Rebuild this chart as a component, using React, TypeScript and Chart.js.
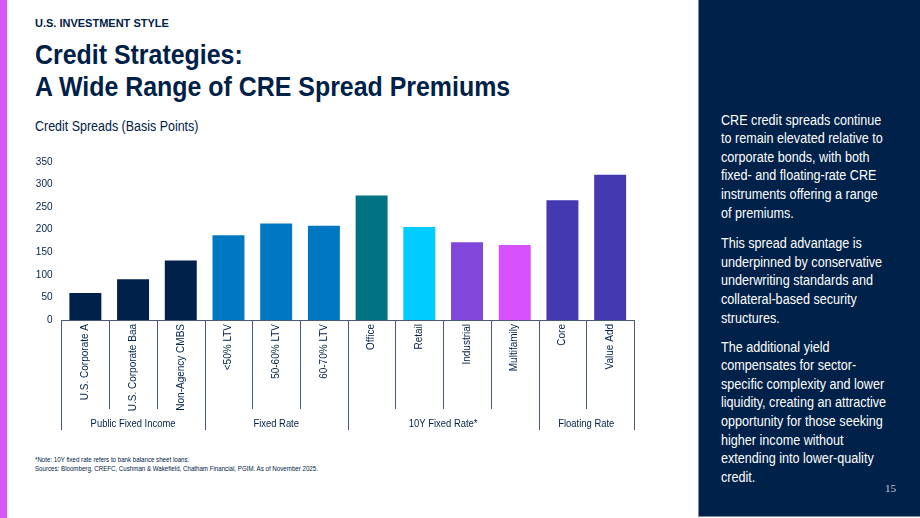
import React, { useEffect, useRef } from "react";
import { Chart, registerables } from "chart.js";

Chart.register(...registerables);

// ---- data ----
const categories = [
  "U.S. Corporate A",
  "U.S. Corporate Baa",
  "Non-Agency CMBS",
  "<50% LTV",
  "50-60% LTV",
  "60-70% LTV",
  "Office",
  "Retail",
  "Industrial",
  "Multifamily",
  "Core",
  "Value Add",
];
const spreads = [60, 90, 132, 188, 214, 209, 276, 206, 172, 166, 265, 322];
const barColors = [
  "#00214a", "#00214a", "#00214a",
  "#0078c1", "#0078c1", "#0078c1",
  "#007383", "#00ccff", "#8047da", "#d551fc",
  "#4539b1", "#4539b1",
];
const groupNames = ["Public Fixed Income", "Fixed Rate", "10Y Fixed Rate*", "Floating Rate"];
const groupSizes = [3, 3, 4, 2];
const yTicks = [0, 50, 100, 150, 200, 250, 300, 350];

const NAVY = "#002147";
const LINE = "#4a5a72";
const FONT = "'Liberation Sans', Arial, Helvetica, sans-serif";

const groupPlugin = {
  id: "groupDividers",
  afterDraw(chart: any) {
    const x = chart.scales.x;
    const ctx = chart.ctx;
    const top = x.top;
    const step = x.getPixelForValue(1) - x.getPixelForValue(0);
    const first = x.getPixelForValue(0) - step / 2;
    const edges = new Set<number>([0]);
    let acc = 0;
    groupSizes.forEach((s) => {
      acc += s;
      edges.add(acc);
    });
    ctx.save();
    ctx.strokeStyle = LINE;
    ctx.lineWidth = 1;
    for (let i = 0; i <= categories.length; i++) {
      const px = Math.round(first + i * step) + 0.5;
      const len = edges.has(i) ? 110 : 89;
      ctx.beginPath();
      ctx.moveTo(px, top);
      ctx.lineTo(px, top + len);
      ctx.stroke();
    }
    ctx.fillStyle = NAVY;
    ctx.font = `11.5px ${FONT}`;
    ctx.textAlign = "center";
    ctx.textBaseline = "middle";
    let start = 0;
    groupNames.forEach((g, gi) => {
      const end = start + groupSizes[gi] - 1;
      const cx = (x.getPixelForValue(start) + x.getPixelForValue(end)) / 2;
      ctx.save();
      ctx.translate(cx, top + 103.5);
      ctx.scale(0.82, 1);
      ctx.fillText(g, 0, 0);
      ctx.restore();
      start += groupSizes[gi];
    });
    ctx.restore();
  },
};

const para1 = [
  "CRE credit spreads continue",
  "to remain elevated relative to",
  "corporate bonds, with both",
  "fixed- and floating-rate CRE",
  "instruments offering a range",
  "of premiums.",
];
const para2 = [
  "This spread advantage is",
  "underpinned by conservative",
  "underwriting standards and",
  "collateral-based security",
  "structures.",
];
const para3 = [
  "The additional yield",
  "compensates for sector-",
  "specific complexity and lower",
  "liquidity, creating an attractive",
  "opportunity for those seeking",
  "higher income without",
  "extending into lower-quality",
  "credit.",
];

function Lines({ lines, style }: { lines: string[]; style: React.CSSProperties }) {
  return (
    <div style={style}>
      {lines.map((l, i) => (
        <div key={i}>{l}</div>
      ))}
    </div>
  );
}

export default function App() {
  const canvasRef = useRef<HTMLCanvasElement | null>(null);

  useEffect(() => {
    if (!canvasRef.current) return;
    const chart = new Chart(canvasRef.current, {
      type: "bar",
      data: {
        labels: categories,
        datasets: [
          {
            data: spreads,
            backgroundColor: barColors,
            barPercentage: 0.67,
            categoryPercentage: 1,
          },
        ],
      },
      options: {
        responsive: false,
        animation: false,
        layout: { padding: { top: 8, right: 26, left: 0, bottom: 0 } },
        plugins: {
          legend: { display: false },
          tooltip: { enabled: false },
          title: { display: false },
        },
        scales: {
          x: {
            grid: { display: false, drawTicks: false },
            border: { display: true, color: LINE, width: 1 },
            ticks: {
              autoSkip: false,
              maxRotation: 90,
              minRotation: 90,
              padding: 4,
              color: NAVY,
              font: { family: FONT, size: 10 },
            },
            afterFit(s: any) {
              s.height = 127;
            },
          },
          y: {
            min: 0,
            max: 350,
            grid: { display: false, drawTicks: false },
            border: { display: false },
            ticks: {
              padding: 9,
              color: NAVY,
              font: { family: FONT, size: 10 },
            },
            afterBuildTicks(s: any) {
              s.ticks = yTicks.map((v) => ({ value: v }));
            },
            afterFit(s: any) {
              s.width = 61.5;
            },
          },
        },
      },
      plugins: [groupPlugin],
    } as any);
    return () => chart.destroy();
  }, []);

  const scaled = (sx: number): React.CSSProperties => ({
    transform: `scaleX(${sx})`,
    transformOrigin: "left top",
    whiteSpace: "nowrap",
  });

  return (
    <div
      style={{
        position: "absolute",
        left: 0,
        top: 0,
        width: 920,
        height: 518,
        overflow: "hidden",
        background: "#ffffff",
        fontFamily: FONT,
        color: NAVY,
      }}
    >
      <div style={{ position: "absolute", left: 0, top: 0, width: 7, height: 518, background: "#d557fb" }} />

      <div
        style={{
          position: "absolute",
          left: 35,
          top: 18,
          fontSize: 11,
          lineHeight: "11px",
          fontWeight: 700,
          whiteSpace: "nowrap",
        }}
      >
        U.S. INVESTMENT STYLE
      </div>
      <div
        style={{
          position: "absolute",
          left: 35,
          top: 38.5,
          fontSize: 28,
          lineHeight: "32.5px",
          fontWeight: 700,
          ...scaled(0.89),
        }}
      >
        <div>Credit Strategies:</div>
        <div>A Wide Range of CRE Spread Premiums</div>
      </div>
      <div
        style={{
          position: "absolute",
          left: 35,
          top: 119,
          fontSize: 14,
          lineHeight: "14px",
          ...scaled(0.89),
        }}
      >
        Credit Spreads (Basis Points)
      </div>

      <canvas
        ref={canvasRef}
        width={660}
        height={300}
        style={{ position: "absolute", left: 0, top: 147, width: 660, height: 300 }}
      />

      <div
        style={{
          position: "absolute",
          left: 35,
          top: 455,
          fontSize: 7,
          lineHeight: "9px",
          ...scaled(0.88),
        }}
      >
        <div>*Note: 10Y fixed rate refers to bank balance sheet loans.</div>
        <div>Sources: Bloomberg, CREFC, Cushman &amp; Wakefield, Chatham Financial, PGIM. As of November 2025.</div>
      </div>

      <div
        style={{
          position: "absolute",
          left: 698,
          top: 0,
          width: 222,
          height: 517,
          background: "#002149",
          borderLeft: "1px solid #7d8aa0",
          borderBottom: "1px solid #7d8aa0",
          boxSizing: "border-box",
        }}
      />
      <div
        style={{
          position: "absolute",
          left: 721,
          top: 110.6,
          fontSize: 14,
          lineHeight: "18.6px",
          color: "#ffffff",
          ...scaled(0.9),
        }}
      >
        <Lines lines={para1} style={{}} />
        <Lines lines={para2} style={{ marginTop: 12 }} />
        <Lines lines={para3} style={{ marginTop: 10.5 }} />
      </div>
      <div
        style={{
          position: "absolute",
          left: 885,
          top: 482,
          fontSize: 11,
          lineHeight: "12px",
          fontFamily: "'Liberation Serif', 'Times New Roman', serif",
          color: "#c3cbd8",
        }}
      >
        15
      </div>
    </div>
  );
}
